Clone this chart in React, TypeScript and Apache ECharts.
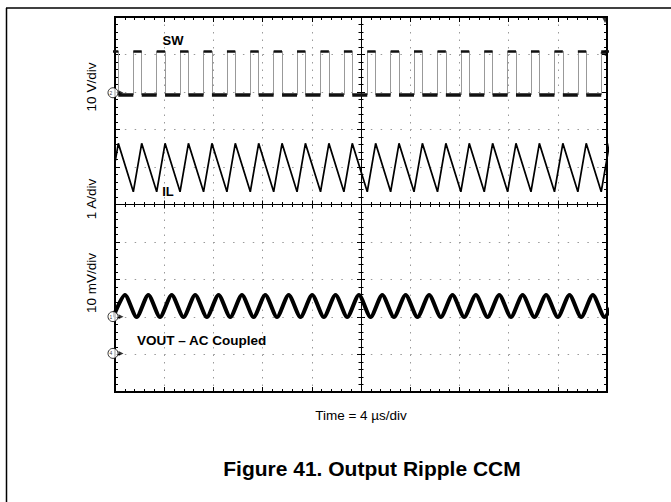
import React, { useEffect, useRef } from 'react';
import * as echarts from 'echarts';

// Time axis: 10 divisions x 4 µs ; vertical axis in screen divisions (-5..5)
const timeMin = 0;
const timeMax = 40;
const timeDiv = 4;
const divMin = -5;
const divMax = 5;

// SW node: switching edge times (µs)
const swRiseTimes = [-0.41, 1.49, 3.39, 5.29, 7.2, 9.1, 11.0, 12.9, 14.8, 16.71, 18.61, 20.51, 22.41, 24.31, 26.22, 28.12, 30.02, 31.92, 33.82, 35.73, 37.63, 39.53];
const swFallTimes = [0.27, 2.17, 4.07, 5.97, 7.88, 9.78, 11.68, 13.58, 15.48, 17.39, 19.29, 21.19, 23.09, 24.99, 26.9, 28.8, 30.7, 32.6, 34.5, 36.41, 38.31, 40.21];
const swHighLevel = 4.09;
const swLowLevel = 2.92;

// Inductor current: valleys at SW rise, peaks at SW fall
const ilPeakLevel = 1.63;
const ilValleyLevel = 0.34;

// Output ripple (AC coupled)
const voutPeakTimes = [0.81, 2.71, 4.61, 6.52, 8.42, 10.32, 12.22, 14.12, 16.03, 17.93, 19.83, 21.73, 23.63, 25.54, 27.44, 29.34, 31.24, 33.14, 35.05, 36.95, 38.85, 40.75];
const voutTroughTimes = [-0.14, 1.76, 3.66, 5.57, 7.47, 9.37, 11.27, 13.17, 15.08, 16.98, 18.88, 20.78, 22.68, 24.59, 26.49, 28.39, 30.29, 32.19, 34.1, 36.0, 37.9, 39.8];
const voutPeakLevel = -2.41;
const voutTroughLevel = -3.0;

// Channel ground markers
const channelNames = ['2', '1', '4'];
const channelOffsets = [2.98, -2.99, -3.97];
const triggerLevel = 4.04;
const triggerTime = 39.84;

const FONT = "'Liberation Sans', Arial, Helvetica, sans-serif";

const GRID = { left: 115, top: 17, width: 492, height: 375 };

export default function App() {
  const ref = useRef<HTMLDivElement>(null);

  useEffect(() => {
    if (!ref.current) return;
    const chart = echarts.init(ref.current, undefined, { renderer: 'svg' });

    const swVerticals: any[] = [];
    const swHighSegs: any[] = [];
    const swLowSegs: any[] = [];
    const ilPath: number[][] = [];
    for (let i = 0; i < swRiseTimes.length; i++) {
      const r = swRiseTimes[i];
      const f = swFallTimes[i];
      swVerticals.push({ coords: [[r, swLowLevel], [r, swHighLevel]] });
      swVerticals.push({ coords: [[f, swHighLevel], [f, swLowLevel]] });
      swHighSegs.push({ coords: [[r, swHighLevel], [f, swHighLevel]] });
      if (i + 1 < swRiseTimes.length) {
        swLowSegs.push({ coords: [[f, swLowLevel], [swRiseTimes[i + 1], swLowLevel]] });
      }
      ilPath.push([r, ilValleyLevel], [f, ilPeakLevel]);
    }
    const voutPath: number[][] = [];
    for (let i = 0; i < voutTroughTimes.length; i++) {
      voutPath.push([voutTroughTimes[i], voutTroughLevel]);
      voutPath.push([voutPeakTimes[i], voutPeakLevel]);
    }

    const markerData = channelNames.map((n, i) => ({ name: n, value: [timeMin, channelOffsets[i]] }));

    const borderAxisCommon = {
      type: 'value',
      axisLine: { show: false, onZero: false },
      axisTick: { show: true, inside: true, length: 5, lineStyle: { color: '#000', width: 1 } },
      minorTick: { show: true, splitNumber: 5, length: 3, lineStyle: { color: '#000', width: 1 } },
      axisLabel: { show: false },
    };
    const centerAxis = (inside: boolean) => ({
      type: 'value',
      axisLine: { show: true, onZero: true, lineStyle: { color: '#000', width: 1 } },
      axisTick: { show: true, inside, length: 4, lineStyle: { color: '#000', width: 1 } },
      minorTick: { show: true, splitNumber: 5, length: 2.5, lineStyle: { color: '#000', width: 1 } },
      axisLabel: { show: false },
      splitLine: { show: false },
    });

    const textEl = (text: string, x: number, y: number, size: number, bold: boolean, rot = 0, align = 'center') => ({
      type: 'text',
      x,
      y,
      rotation: rot,
      style: {
        text,
        fill: '#000',
        fontSize: size,
        fontFamily: FONT,
        fontWeight: bold ? 'bold' : 'normal',
        align,
        verticalAlign: 'middle',
        textAlign: align,
        textVerticalAlign: 'middle',
      },
      z: 100,
    });

    const option: any = {
      animation: false,
      backgroundColor: '#fff',
      grid: [
        { ...GRID, show: true, borderColor: '#000', borderWidth: 2, backgroundColor: 'transparent', z: 3 },
        { ...GRID, show: false },
        { ...GRID, show: false },
      ],
      xAxis: [
        {
          ...borderAxisCommon, gridIndex: 0, position: 'bottom', min: timeMin, max: timeMax, interval: timeDiv,
          splitLine: { show: true, lineStyle: { color: '#9a9a9a', width: 1, type: [1.5, 6] } },
        },
        { ...borderAxisCommon, gridIndex: 0, position: 'top', min: timeMin, max: timeMax, interval: timeDiv, splitLine: { show: false } },
        { ...centerAxis(false), gridIndex: 1, min: -20, max: 20, interval: timeDiv },
        { ...centerAxis(true), gridIndex: 2, min: -20, max: 20, interval: timeDiv },
      ],
      yAxis: [
        {
          ...borderAxisCommon, gridIndex: 0, position: 'left', min: divMin, max: divMax, interval: 1,
          splitLine: { show: true, lineStyle: { color: '#9a9a9a', width: 1, type: [1.5, 8.34] } },
        },
        { ...borderAxisCommon, gridIndex: 0, position: 'right', min: divMin, max: divMax, interval: 1, splitLine: { show: false } },
        { ...centerAxis(false), gridIndex: 1, min: divMin, max: divMax, interval: 1 },
        { ...centerAxis(true), gridIndex: 2, min: divMin, max: divMax, interval: 1 },
      ],
      series: [
        {
          name: 'SW', type: 'lines', coordinateSystem: 'cartesian2d', xAxisIndex: 0, yAxisIndex: 0,
          data: swVerticals, lineStyle: { color: '#999', width: 1, opacity: 1 }, silent: true, clip: true, z: 4,
        },
        {
          name: 'SW low', type: 'lines', coordinateSystem: 'cartesian2d', xAxisIndex: 0, yAxisIndex: 0,
          data: swLowSegs, lineStyle: { color: '#111', width: 3.5, opacity: 1 }, silent: true, clip: true, z: 5,
        },
        {
          name: 'SW high', type: 'lines', coordinateSystem: 'cartesian2d', xAxisIndex: 0, yAxisIndex: 0,
          data: swHighSegs, lineStyle: { color: '#111', width: 2.5, opacity: 1 }, silent: true, clip: true, z: 5,
        },
        {
          name: 'IL', type: 'line', xAxisIndex: 0, yAxisIndex: 0, data: ilPath, showSymbol: false,
          lineStyle: { color: '#000', width: 1.7 }, clip: true, z: 5,
        },
        {
          name: 'VOUT', type: 'line', xAxisIndex: 0, yAxisIndex: 0, data: voutPath, showSymbol: false, smooth: 0.25,
          lineStyle: { color: '#000', width: 4 }, clip: true, z: 5,
        },
        {
          name: 'channel', type: 'scatter', xAxisIndex: 0, yAxisIndex: 0, data: markerData,
          symbol: 'triangle', symbolRotate: -90, symbolSize: 5, symbolOffset: [6, 0],
          itemStyle: { color: '#000' }, clip: false, z: 10, silent: true,
        },
        {
          name: 'channel marker', type: 'scatter', xAxisIndex: 0, yAxisIndex: 0, data: markerData,
          symbol: 'circle', symbolSize: 10, symbolOffset: [-2, 0],
          itemStyle: { color: '#fff', borderColor: '#000', borderWidth: 1 },
          label: { show: true, position: 'inside', formatter: '{b}', fontSize: 5, color: '#000', fontFamily: FONT, offset: [-2, 0] },
          clip: false, z: 11, silent: true,
        },
        {
          name: 'trigger', type: 'scatter', xAxisIndex: 0, yAxisIndex: 0,
          data: [[timeMax, triggerLevel]], symbol: 'triangle', symbolRotate: 90, symbolSize: 6, symbolOffset: [-4, 0],
          itemStyle: { color: '#000' }, clip: false, z: 10, silent: true,
        },
        {
          name: 'trigger pos', type: 'scatter', xAxisIndex: 0, yAxisIndex: 0,
          data: [[triggerTime, divMax]], symbol: 'triangle', symbolRotate: 180, symbolSize: 6, symbolOffset: [0, 3],
          itemStyle: { color: '#000' }, clip: false, z: 10, silent: true,
        },
      ],
      graphic: [
        { type: 'line', shape: { x1: 6, y1: 8, x2: 671, y2: 8 }, style: { stroke: '#000', lineWidth: 1.5 } },
        { type: 'line', shape: { x1: 6.5, y1: 8, x2: 6.5, y2: 502 }, style: { stroke: '#000', lineWidth: 1.5 } },
        textEl('SW', 173, 40, 13, true),
        textEl('IL', 168, 191, 13, true),
        textEl('VOUT – AC Coupled', 137, 340, 13.5, true, 0, 'left'),
        textEl('10 V/div', 91, 87, 13.5, false, Math.PI / 2),
        textEl('1 A/div', 91, 199, 13.5, false, Math.PI / 2),
        textEl('10 mV/div', 91, 283, 13.5, false, Math.PI / 2),
        textEl('Time = 4 µs/div', 361, 415, 13.5, false),
        textEl('Figure 41. Output Ripple CCM', 372, 468, 21, true),
      ],
    };

    chart.setOption(option);
    return () => chart.dispose();
  }, []);

  return (
    <div
      ref={ref}
      style={{ position: 'fixed', left: 0, top: 0, width: 671, height: 502, background: '#fff' }}
    />
  );
}
